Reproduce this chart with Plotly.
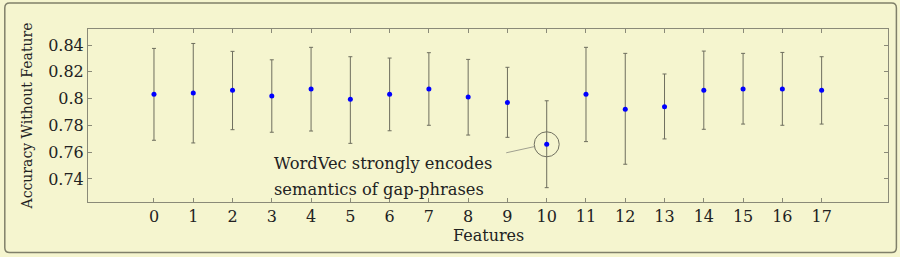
import plotly.graph_objects as go

features = list(range(18))
mean_acc = [0.8032, 0.8042, 0.8062, 0.8020, 0.8072, 0.7995, 0.8032, 0.8072, 0.8012,
            0.7972, 0.7659, 0.8032, 0.7920, 0.7940, 0.8062, 0.8072, 0.8072, 0.8062]
upper_acc = [0.8375, 0.8412, 0.8353, 0.8290, 0.8383, 0.8313, 0.8303, 0.8343, 0.8293,
             0.8234, 0.7984, 0.8383, 0.8338, 0.8184, 0.8355, 0.8338, 0.8345, 0.8313]
lower_acc = [0.7689, 0.7669, 0.7768, 0.7749, 0.7758, 0.7666, 0.7760, 0.7801, 0.7728,
             0.7711, 0.7335, 0.7679, 0.7510, 0.7699, 0.7771, 0.7810, 0.7801, 0.7810]
y_ticks = [0.74, 0.76, 0.78, 0.80, 0.82, 0.84]
y_tick_labels = ["0.74", "0.76", "0.78", "0.8", "0.82", "0.84"]
highlight_feature = 10
note_lines = ["WordVec strongly encodes", "semantics of gap-phrases"]
note_line_y = [0.7519, 0.7318]
x_title = "Features"
y_title = "Accuracy Without Feature"

err_plus = [u - m for u, m in zip(upper_acc, mean_acc)]
err_minus = [m - l for m, l in zip(mean_acc, lower_acc)]

BG = "#F5F5CF"
AX = "#8A8A78"
FONT = "DejaVu Serif"
TXT = "#222222"

fig = go.Figure()
fig.add_trace(go.Scatter(
    x=features, y=mean_acc, mode="markers",
    marker=dict(color="#0000FF", size=5),
    error_y=dict(type="data", symmetric=False, array=err_plus, arrayminus=err_minus,
                 color="#6E6E5E", thickness=1, width=2),
    showlegend=False,
))

hi_y = mean_acc[highlight_feature]
fig.add_shape(type="circle", xref="x", yref="y",
              xsizemode="pixel", ysizemode="pixel",
              xanchor=highlight_feature, yanchor=hi_y,
              x0=-12.5, x1=12.5, y0=-12.5, y1=12.5,
              line=dict(color="#707060", width=1))
fig.add_shape(type="line", xref="x", yref="y",
              xsizemode="pixel", ysizemode="pixel",
              xanchor=highlight_feature, yanchor=hi_y,
              x0=-12.7, y0=-2.4, x1=-40.5, y1=-8.5,
              line=dict(color="#A0A090", width=1))

for line, ly in zip(note_lines, note_line_y):
    fig.add_annotation(x=3.0, y=ly, xref="x", yref="y", text=line,
                       showarrow=False, xanchor="left", yanchor="middle", align="left",
                       font=dict(family=FONT, size=16.3, color=TXT))

fig.add_annotation(x=0.5, y=-0.196, xref="paper", yref="paper", text=x_title,
                   showarrow=False, xanchor="center", yanchor="middle",
                   font=dict(family=FONT, size=16, color=TXT))
fig.add_annotation(x=-0.0763, y=0.5, xref="paper", yref="paper", text=y_title,
                   showarrow=False, xanchor="center", yanchor="middle", textangle=-90,
                   font=dict(family=FONT, size=14, color=TXT))

# outer rounded frame
x0, x1 = -0.104, 1.0105
y0, y1 = -0.292, 1.150
rx, ry = 0.006, 0.028
path = (f"M {x0+rx} {y1} L {x1-rx} {y1} Q {x1} {y1} {x1} {y1-ry} "
        f"L {x1} {y0+ry} Q {x1} {y0} {x1-rx} {y0} L {x0+rx} {y0} "
        f"Q {x0} {y0} {x0} {y0+ry} L {x0} {y1-ry} Q {x0} {y1} {x0+rx} {y1} Z")
fig.add_shape(type="path", xref="paper", yref="paper", path=path,
              line=dict(color="#80806A", width=1.5), layer="below")

fig.update_layout(
    width=900, height=257,
    margin=dict(l=88, r=12, t=29, b=55),
    paper_bgcolor=BG, plot_bgcolor=BG,
    font=dict(family=FONT, color=TXT),
)
fig.update_xaxes(
    range=[-1.68, 18.69], tickmode="array", tickvals=features,
    ticktext=[str(f) for f in features],
    showgrid=False, zeroline=False,
    showline=True, linecolor=AX, linewidth=1, mirror="ticks",
    ticks="inside", ticklen=4, tickcolor=AX,
    tickfont=dict(family=FONT, size=16, color=TXT),
)
fig.update_yaxes(
    range=[0.7228, 0.852], tickmode="array", tickvals=y_ticks, ticktext=y_tick_labels,
    showgrid=False, zeroline=False,
    showline=True, linecolor=AX, linewidth=1, mirror="ticks",
    ticks="inside", ticklen=4, tickcolor=AX,
    tickfont=dict(family=FONT, size=16, color=TXT),
)

fig.write_html("out.html")
